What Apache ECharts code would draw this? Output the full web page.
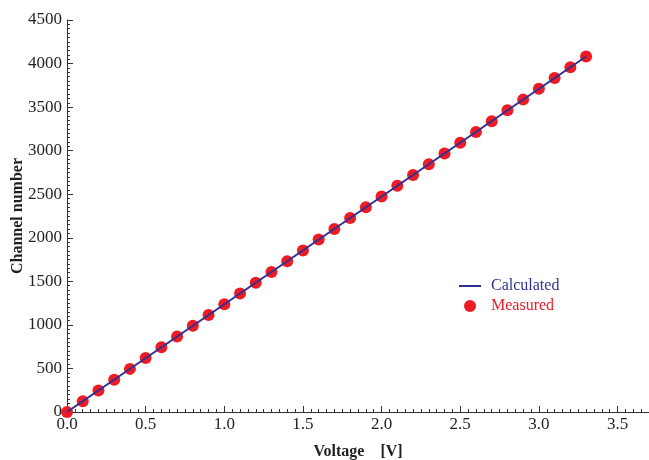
<!DOCTYPE html>
<html>
<head>
<meta charset="utf-8">
<script src="https://cdn.jsdelivr.net/npm/echarts@6/dist/echarts.min.js"></script>
<style>html,body{margin:0;padding:0;background:#fff}#c{width:649px;height:460px}</style>
</head>
<body>
<div id="c"></div>
<script>
// Measured points (Voltage [V], Channel number)
const voltage = [0.0,0.1,0.2,0.3,0.4,0.5,0.6,0.7,0.8,0.9,1.0,1.1,1.2,1.3,1.4,1.5,1.6,1.7,1.8,1.9,2.0,2.1,2.2,2.3,2.4,2.5,2.6,2.7,2.8,2.9,3.0,3.1,3.2,3.3];
const channel = [0,124,248,371,495,619,742,866,990,1113,1237,1360,1484,1608,1731,1855,1979,2102,2226,2350,2473,2597,2721,2844,2968,3092,3215,3339,3463,3586,3710,3834,3957,4081];
// Calculated line endpoints
const calcVoltage = [0.0, 3.3];
const calcChannel = [0, 4081];

const serif = 'Liberation Serif, Times New Roman, serif';
const chart = echarts.init(document.getElementById('c'), null, {renderer: 'canvas'});
chart.setOption({
  animation: false,
  backgroundColor: '#ffffff',
  grid: {left: 67, right: 0, top: 20, bottom: 48, containLabel: false, outerBoundsMode: 'none'},
  xAxis: [{
    type: 'value', min: 0, max: 3.7, interval: 0.5, position: 'bottom',
    name: 'Voltage    [V]', nameLocation: 'middle', nameGap: 32, nameMoveOverlap: false,
    nameTextStyle: {fontFamily: serif, fontWeight: 'bold', fontSize: 16, color: '#231f20'},
    axisLine: {show: true, onZero: false, lineStyle: {color: '#333', width: 1}},
    axisTick: {show: true, inside: true, length: 6, lineStyle: {color: '#333'}},
    axisLabel: {showMaxLabel: false, margin: 4, fontFamily: serif, fontSize: 17, color: '#231f20',
      formatter: v => v.toFixed(1)},
    splitLine: {show: false}
  }, {
    type: 'value', min: 0, max: 3.7, interval: 0.05, position: 'bottom',
    axisLine: {show: false},
    axisTick: {show: true, inside: true, length: 3, lineStyle: {color: '#333'}},
    axisLabel: {show: false},
    splitLine: {show: false}
  }],
  yAxis: {
    type: 'value', min: 0, max: 4500, interval: 500,
    name: 'Channel number', nameLocation: 'middle', nameGap: 41, nameMoveOverlap: false,
    nameTextStyle: {fontFamily: serif, fontWeight: 'bold', fontSize: 16, color: '#231f20'},
    axisLine: {show: true, onZero: false, lineStyle: {color: '#333', width: 1}},
    axisTick: {show: true, inside: true, length: 6, lineStyle: {color: '#333'}},
    minorTick: {show: true, splitNumber: 10, length: 3, lineStyle: {color: '#333'}},
    axisLabel: {margin: 5, fontFamily: serif, fontSize: 17, color: '#231f20',
      formatter: v => String(v)},
    splitLine: {show: false}
  },
  legend: {
    orient: 'vertical', left: 453, top: 273, itemWidth: 22, itemHeight: 12, itemGap: 4,
    textStyle: {fontFamily: serif, fontSize: 16, padding: [0, 0, 0, 5]},
    data: [
      {name: 'Calculated', itemStyle: {opacity: 0}, textStyle: {color: '#2e3192'}},
      {name: 'Measured', icon: 'circle', textStyle: {color: '#ed1c24'}}
    ]
  },
  series: [{
    name: 'Measured', type: 'scatter', symbol: 'circle', symbolSize: 12,
    itemStyle: {color: '#ed1c24', opacity: 1},
    data: voltage.map((v, i) => [v, channel[i]]), z: 2
  }, {
    name: 'Calculated', type: 'line', symbol: 'none',
    lineStyle: {color: '#2e3192', width: 2}, itemStyle: {color: '#2e3192'},
    data: calcVoltage.map((v, i) => [v, calcChannel[i]]), z: 3
  }]
});
</script>
</body>
</html>
